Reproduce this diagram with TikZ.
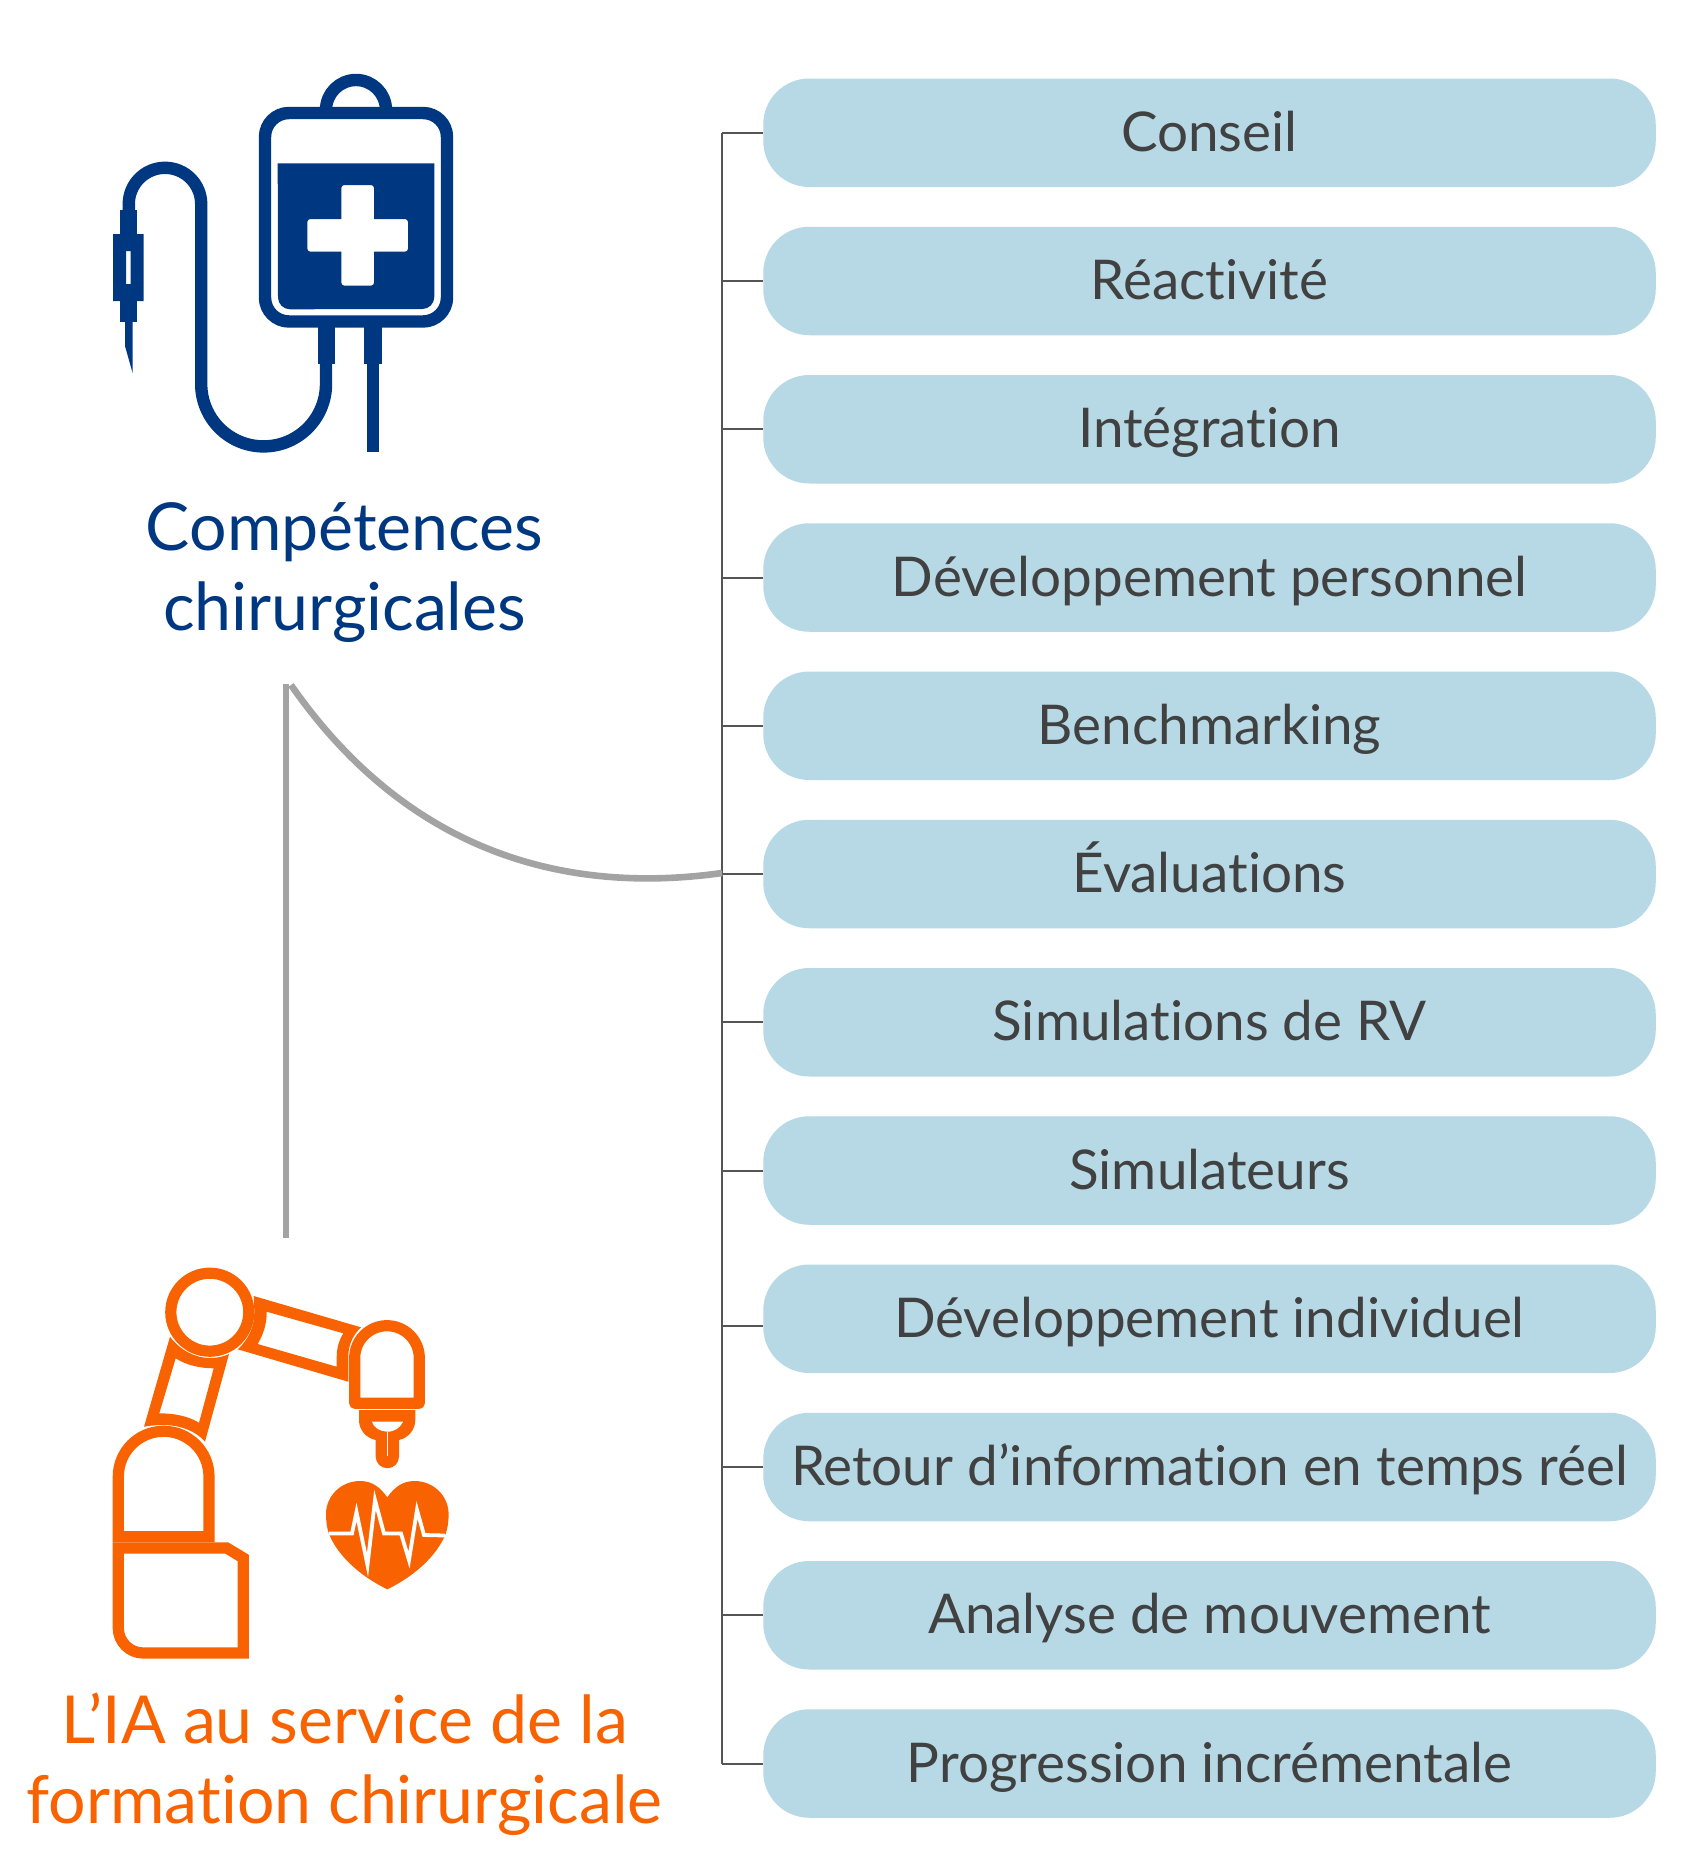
\documentclass[tikz,border=0pt]{standalone}
\usepackage{fontspec}
\setmainfont{Lato}[Ligatures=NoCommon]
\definecolor{iblue}{HTML}{003781}
\definecolor{iorange}{HTML}{F86200}
\definecolor{ipill}{HTML}{B6D9E5}
\definecolor{itext}{HTML}{414141}
\definecolor{igray}{HTML}{A3A3A3}
\definecolor{ibus}{HTML}{555555}
\tikzset{
  x=0.5pt,y=-0.5pt,
  pill/.style={fill=ipill,rounded corners=23pt,minimum width=446.25pt,minimum height=54.25pt,inner sep=0pt,
    text=itext,font=\fontsize{27.4}{32}\selectfont,text height=19pt,text depth=0.5pt},
  bus/.style={draw=ibus,line width=1pt},
  grayline/.style={draw=igray,line width=3.3pt},
  headb/.style={text=iblue,font=\fontsize{33.1}{40}\selectfont,align=center,inner sep=0pt},
  heado/.style={text=iorange,font=\fontsize{33.1}{40}\selectfont,align=center,inner sep=0pt},
  bl/.style={draw=iblue,line width=6.2pt},
  or/.style={draw=iorange,line width=5.6pt,line join=round},
}
\begin{document}
\begin{tikzpicture}
\useasboundingbox (0,0) rectangle (1697,1869);
% pills
\foreach \n/\yy/\t in {
 p1/132.75/Conseil,p2/281/Réactivité,p3/429.25/Intégration,p4/577.5/Développement personnel,
 p5/725.75/Benchmarking,p6/874/Évaluations,p7/1022.25/Simulations de RV,p8/1170.5/Simulateurs,
 p9/1318.75/Développement individuel,p10/1467/Retour d’information en temps réel,
 p11/1615.25/Analyse de mouvement,p12/1763.5/Progression incrémentale}{
  \node[pill] (\n) at (1209.5,\yy) {\t};
}
% bus
\coordinate (bustop) at (722.3,132.75);
\coordinate (busbot) at (722.3,1763.5);
\draw[bus] (bustop) -- (busbot);
\foreach \n in {p1,p2,p3,p4,p5,p6,p7,p8,p10,p11,p12}{
  \draw[bus] (\n.west) -- (\n.west -| bustop);
}
\draw[bus] ([yshift=-3.5pt]p9.west) -- ([yshift=-3.5pt]p9.west -| bustop);
% gray connectors
\coordinate (gtop) at (286,684);
\coordinate (gbot) at (286,1238);
\coordinate (gc1) at (291,685);
\coordinate (gc2) at (722,873);
\draw[grayline] (gtop) -- (gbot);
\draw[grayline] (gc1) .. controls (415,863) and (580,893) .. (gc2);
% headings
\node[headb] (h1) at (344.6,573) {Compétences\\chirurgicales};
\node[heado] (h2) at (344.6,1764) {L’IA au service de la\\formation chirurgicale};
% IV bag icon
\draw[bl] (326,110) arc[start angle=-180,end angle=0,radius=30];
\draw[bl] (265,137) arc[start angle=-180,end angle=-90,radius=24] -- (423,113) arc[start angle=-90,end angle=0,radius=24] -- (447,297.5) arc[start angle=0,end angle=90,radius=24] -- (289,321.5) arc[start angle=90,end angle=180,radius=24] -- cycle;
\fill[iblue,even odd rule] (277.7,163.3) -- (434.3,163.3) -- (434.3,297) arc[start angle=0,end angle=90,radius=12] -- (290,309.3) arc[start angle=90,end angle=180,radius=12] -- cycle
  (344.3,185) -- (371,185) arc[start angle=-90,end angle=0,radius=3] -- (374,219) -- (405,219) arc[start angle=-90,end angle=0,radius=3] -- (408,248.7) arc[start angle=0,end angle=90,radius=3] -- (374,251.7) -- (374,282.7) arc[start angle=0,end angle=90,radius=3] -- (344.3,285.7) arc[start angle=90,end angle=180,radius=3] -- (341.3,251.7) -- (310.3,251.7) arc[start angle=90,end angle=180,radius=3] -- (307.3,222) arc[start angle=-180,end angle=-90,radius=3] -- (341.3,219) -- (341.3,188) arc[start angle=-180,end angle=-90,radius=3] -- cycle;
\fill[iblue] (317.7,327) rectangle (335,364);
\fill[iblue] (364.3,327) rectangle (381.7,364);
\fill[iblue] (367,364) rectangle (379.3,451.7);
\draw[bl] (326,364) -- (326,384) arc[start angle=0,end angle=180,radius=62.4] -- (201.2,204) arc[start angle=0,end angle=-180,radius=36.2] -- (128.8,212);
\fill[iblue] (120,209.7) rectangle (137.3,234.5);
\fill[iblue] (120,300.5) rectangle (137.3,321.7);
\fill[iblue,even odd rule] (113,234) rectangle (143.7,301) (126,251) rectangle (130.7,284);
\fill[iblue] (125,321) -- (132.7,321) -- (132.7,373.3) -- (125,346) -- cycle;
% robot icon
\draw[or] (209.8,1312.2) circle[radius=39];
\fill[iorange,even odd rule]
  (253.7,1296) -- (361,1327.3) .. controls (352,1336) and (348.3,1346) .. (348.3,1356.7) -- (348.3,1381.7) -- (237.7,1349.3) .. controls (248,1340) and (254.3,1327) .. (254.3,1313) .. controls (254.3,1307) and (254,1301) .. (253.7,1296) -- cycle
  (266.7,1311.7) -- (343.3,1333.3) .. controls (338,1342) and (336.7,1350) .. (336.7,1358) -- (336.7,1366.7) -- (257.7,1344) .. controls (263,1335) and (267,1324) .. (266.7,1311.7) -- cycle;
\fill[iorange,even odd rule]
  (170,1336.7) .. controls (180,1350) and (195,1358) .. (210,1358) .. controls (216,1358) and (223,1357) .. (229,1354) -- (205,1441.7) .. controls (196,1431) and (180,1425) .. (163,1425) .. controls (157,1425) and (150,1425.5) .. (144,1426.7) -- cycle
  (175.7,1358.3) .. controls (186,1365) and (200,1368.3) .. (213.7,1368.3) -- (199,1422.7) .. controls (188,1416) and (174,1413.3) .. (159.3,1413.3) -- cycle;
\draw[or,line join=miter] (118.3,1536.7) -- (118.3,1476.6) arc[start angle=-180,end angle=0,radius=45.35] -- (209,1536.7) -- cycle;
\draw[or,line join=miter] (118.3,1548) -- (226.7,1548) -- (243.3,1558) -- (243.3,1653) -- (143.3,1653) arc[start angle=90,end angle=180,radius=25] -- cycle;
\draw[or] (354.7,1403.3) -- (354.7,1358) arc[start angle=-180,end angle=0,radius=32.3] -- (419.3,1403.3) -- cycle;
\fill[iorange,even odd rule]
  (359,1410) -- (415.3,1410) -- (415.3,1420) .. controls (415.3,1430) and (408,1438) .. (399,1440) -- (399,1456.6) arc[start angle=0,end angle=180,radius=11.65] -- (375.7,1440) .. controls (366,1438) and (359,1430) .. (359,1420) -- cycle
  (371.7,1421.7) -- (403.3,1421.7) .. controls (400,1428) and (395,1431.7) .. (387.3,1431.7) .. controls (380,1431.7) and (374,1428) .. (371.7,1421.7) -- cycle;
\draw[white,line width=0.4pt] (387.3,1431.7) -- (387.3,1456);
% heart
\fill[iorange] (387.3,1497.3) .. controls (380,1487) and (372,1481) .. (360,1481) .. controls (341,1481) and (326,1496) .. (326,1514) .. controls (326,1522) and (327,1528) .. (329,1534) .. controls (338,1556) and (360,1576) .. (387.3,1589.3) .. controls (414.6,1576) and (436.6,1556) .. (445.6,1534) .. controls (447.6,1528) and (448.6,1522) .. (448.6,1514) .. controls (448.6,1496) and (433.6,1481) .. (414.6,1481) .. controls (402.6,1481) and (394.6,1487) .. (387.3,1497.3) -- cycle;
\draw[white,line width=1.9pt,miter limit=12] (329,1533.5) -- (352,1533.5) -- (356.5,1512) -- (367.5,1565) -- (375,1500) -- (384,1533.5) -- (401,1533.5) -- (409,1560) -- (417,1510) -- (424,1535) -- (445,1535.5);
\end{tikzpicture}
\end{document}
